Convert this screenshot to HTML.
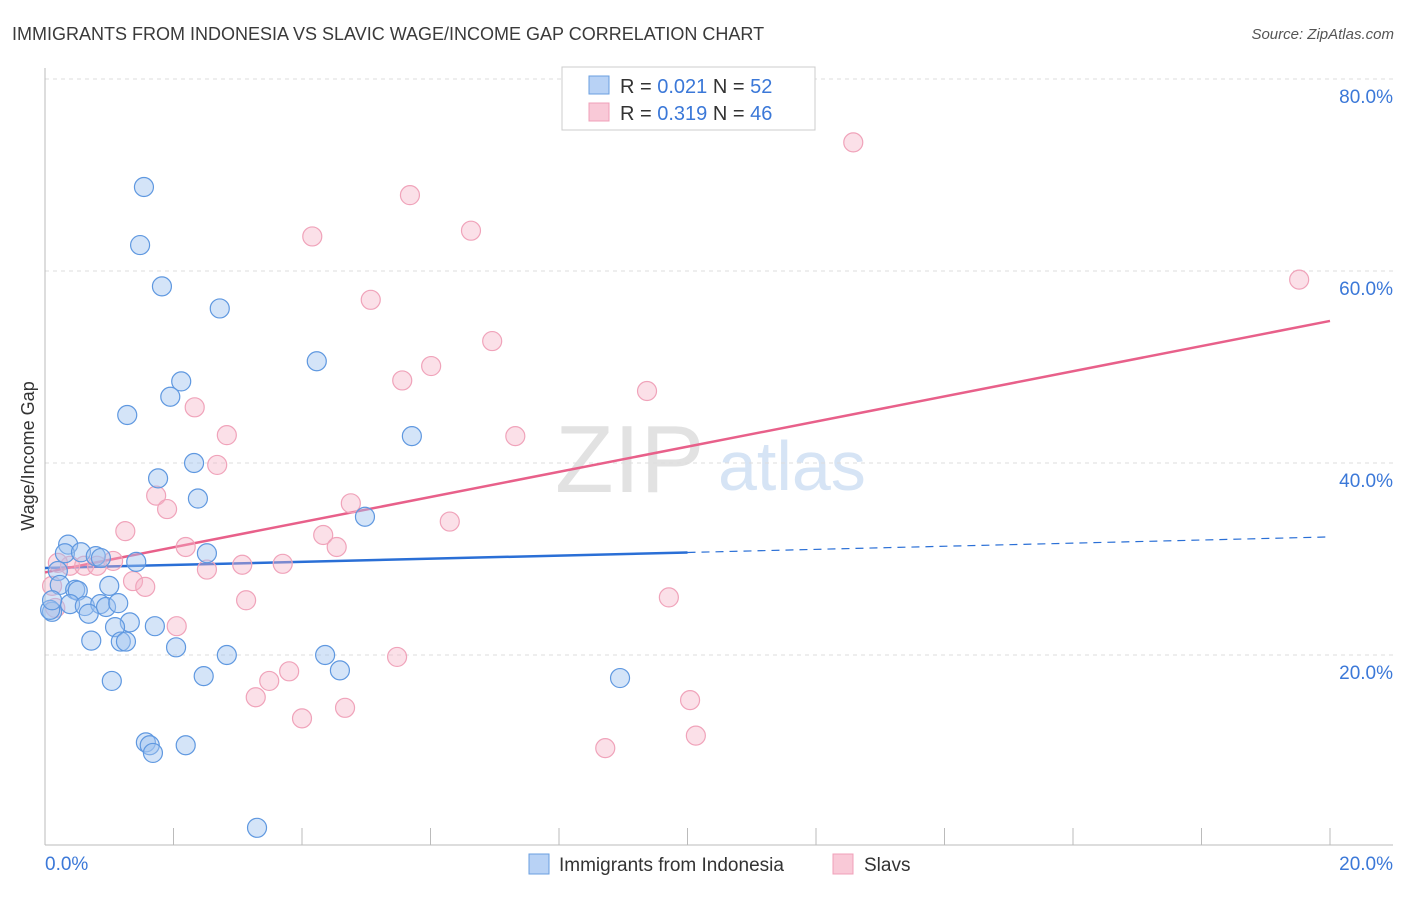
<!DOCTYPE html>
<html><head><meta charset="utf-8"><style>
body{margin:0;background:#fff;font-family:"Liberation Sans",sans-serif}
svg text{font-family:"Liberation Sans",sans-serif}
</style></head><body>
<svg id="chart" width="1406" height="892" xmlns="http://www.w3.org/2000/svg">
<text x="12" y="40" font-size="18" fill="#3a3a3a">IMMIGRANTS FROM INDONESIA VS SLAVIC WAGE/INCOME GAP CORRELATION CHART</text>
<text x="1394" y="39" font-size="15" fill="#555" text-anchor="end" font-style="italic">Source: ZipAtlas.com</text>
<text x="555" y="492" font-size="96" fill="#e2e2e2" font-family="Liberation Serif">ZIP</text>
<text x="718" y="490" font-size="70" fill="#d6e4f5">atlas</text>
<text transform="translate(34,456) rotate(-90)" font-size="18" fill="#333" text-anchor="middle">Wage/Income Gap</text>
<g id="grid"></g><g id="axes"></g><g id="trend"></g><g id="points"></g>
<g>
<rect x="562" y="67" width="253" height="63" fill="#fff" stroke="#ccc"/>
<rect x="589" y="76" width="20" height="18" fill="#b8d2f5" stroke="#6a9fe0"/>
<text x="620" y="93" font-size="20" fill="#333">R = <tspan fill="#3b78d8">0.021</tspan>   N = <tspan fill="#3b78d8">52</tspan></text>
<rect x="589" y="103" width="20" height="18" fill="#f9c9d7" stroke="#f0a0b8"/>
<text x="620" y="120" font-size="20" fill="#333">R = <tspan fill="#3b78d8">0.319</tspan>   N = <tspan fill="#3b78d8">46</tspan></text>
</g>
<g>
<rect x="529" y="854" width="20" height="20" fill="#b8d2f5" stroke="#6a9fe0"/>
<text x="559" y="871" font-size="19" fill="#333">Immigrants from Indonesia</text>
<rect x="833" y="854" width="20" height="20" fill="#f9c9d7" stroke="#f0a0b8"/>
<text x="864" y="871" font-size="19" fill="#333">Slavs</text>
</g>
</svg>
<script>
const blueX=[1.54,1.48,1.82,2.72,4.23,2.12,1.95,1.28,5.71,2.32,1.76,2.38,4.98,0.36,0.31,0.56,0.79,0.87,2.52,1.42,0.20,0.23,0.47,0.51,1.00,0.39,0.62,0.86,0.95,1.14,0.68,0.11,0.08,1.32,1.09,1.71,0.72,1.18,1.26,2.04,2.83,4.36,4.59,1.04,2.47,8.95,1.57,1.63,2.19,1.68,3.30,0.11];
const blueY=[68.75,62.7,58.4,56.1,50.6,48.5,46.9,45.0,42.8,40.0,38.4,36.3,34.4,31.5,30.6,30.7,30.3,30.1,30.6,29.7,28.75,27.3,26.8,26.7,27.2,25.3,25.1,25.3,25.0,25.4,24.3,24.5,24.7,23.4,22.9,23.0,21.5,21.4,21.4,20.8,20.0,20.0,18.4,17.3,17.8,17.6,10.9,10.6,10.6,9.8,2.0,25.7];
const pinkX=[12.58,5.68,4.16,6.63,19.52,5.07,6.96,6.01,5.56,9.37,2.33,2.83,7.32,2.68,1.73,1.90,4.76,6.30,1.25,4.33,2.19,4.54,0.39,0.61,0.81,1.06,3.07,3.70,2.52,0.20,1.37,1.56,0.11,0.16,3.13,9.71,2.05,3.80,3.49,3.28,5.48,4.00,4.67,10.04,10.13,8.72];
const pinkY=[73.4,67.9,63.6,64.2,59.1,57.0,52.7,50.1,48.6,47.5,45.8,42.9,42.8,39.8,36.6,35.2,35.8,33.9,32.9,32.5,31.25,31.25,29.3,29.3,29.3,29.8,29.4,29.5,28.9,29.6,27.7,27.1,27.2,24.9,25.7,26.0,23.0,18.3,17.3,15.6,19.8,13.4,14.5,15.3,11.6,10.3];
const blueTrend=[29.06,32.3];
const pinkTrend=[28.6,54.8];
const yTicks=[20,40,60,80];
const xTickLabels=["0.0%","20.0%"];
const NS="http://www.w3.org/2000/svg";
const sx=v=>45+v*64.25, sy=v=>847-v*9.6;
function mk(tag,attrs,parent){const e=document.createElementNS(NS,tag);for(const k in attrs)e.setAttribute(k,attrs[k]);document.getElementById(parent).appendChild(e);return e;}
yTicks.forEach(t=>{
 const l=mk('line',{x1:45,x2:1393,y1:sy(t),y2:sy(t),stroke:'#ddd','stroke-dasharray':'4,4'},'grid');
 
 
 const tx=mk('text',{x:1393,y:sy(t)+24,'font-size':19,fill:'#3b78d8','text-anchor':'end'},'grid');
 tx.textContent=t.toFixed(1)+'%';
 
 
});
const ax=mk('line',{x1:45,x2:45,y1:68,y2:845,stroke:'#bbb'},'axes');


const bx=mk('line',{x1:45,x2:1393,y1:845,y2:845,stroke:'#bbb'},'axes');


for(let i=1;i<=10;i++){const t=mk('line',{x1:sx(i*2),x2:sx(i*2),y1:828,y2:845,stroke:'#bbb'},'axes');
 
 }
[[0,'start',45],[20,'end',1393]].forEach((d,i)=>{const t=mk('text',{x:d[2],y:870,'font-size':19,fill:'#3b78d8','text-anchor':d[1]},'axes');t.textContent=xTickLabels[i];
 
 });
const by=x=>blueTrend[0]+(blueTrend[1]-blueTrend[0])*x/20;
const b1=mk('line',{x1:sx(0),y1:sy(by(0)),x2:sx(10),y2:sy(by(10)),stroke:'#2a6fd6','stroke-width':2.5},'trend');


const b2=mk('line',{x1:sx(10),y1:sy(by(10)),x2:sx(20),y2:sy(by(20)),stroke:'#2a6fd6','stroke-width':1.2,'stroke-dasharray':'8,6'},'trend');


const p1=mk('line',{x1:sx(0),y1:sy(pinkTrend[0]),x2:sx(20),y2:sy(pinkTrend[1]),stroke:'#e8608a','stroke-width':2.5},'trend');


pinkX.forEach((x,i)=>{const c=mk('circle',{cx:sx(x),cy:sy(pinkY[i]),r:9.5,fill:'rgba(246,178,198,0.4)',stroke:'#f0a3ba','stroke-width':1.2},'points');
 
 });
blueX.forEach((x,i)=>{const c=mk('circle',{cx:sx(x),cy:sy(blueY[i]),r:9.5,fill:'rgba(160,196,240,0.45)',stroke:'#5f98e0','stroke-width':1.2},'points');
 
 });
</script>
</body></html>
